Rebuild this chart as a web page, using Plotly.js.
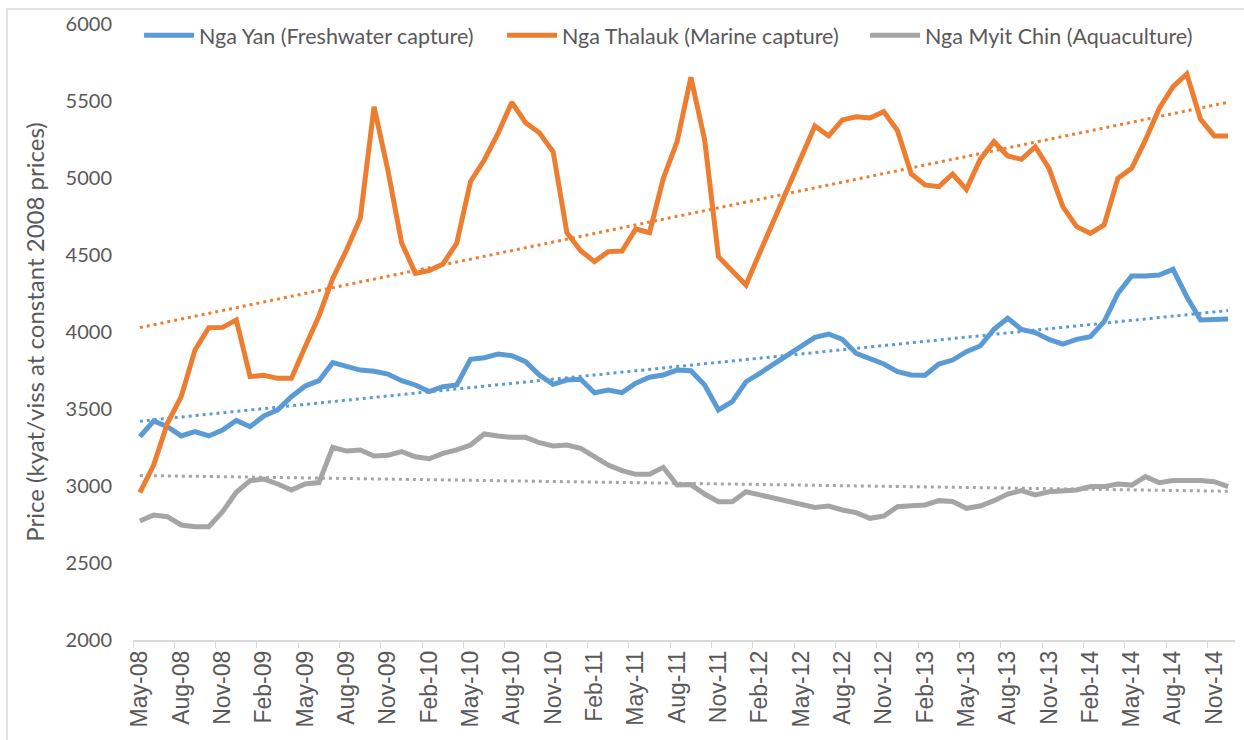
<!DOCTYPE html>
<html>
<head>
<meta charset="utf-8">
<script src="https://cdn.plot.ly/plotly-3.0.1.min.js"></script>
<style>
  html, body { margin: 0; padding: 0; background: #fff; }
  #chart { width: 1244px; height: 740px; }
</style>
</head>
<body>
<div id="chart"></div>
<script>
// monthly categories May-08 .. Dec-14
const monthNames = ["Jan", "Feb", "Mar", "Apr", "May", "Jun", "Jul", "Aug", "Sep", "Oct", "Nov", "Dec"];
const months = [];
for (let y = 2008; y <= 2014; y++) {
    for (let m = (y === 2008 ? 4 : 0); m < 12; m++) {
        months.push(monthNames[m] + "-" + String(y).slice(2));
    }
}

// kyat/viss at constant 2008 prices
const ngaYan = [
    3320, 3422, 3385, 3325, 3353, 3325, 3364, 3426, 3385, 3455, 3494, 3580, 3649, 3684, 3801, 3775, 3753, 3745, 3727, 3684,
    3656, 3613, 3645, 3656, 3823, 3833, 3857, 3846, 3807, 3721, 3660, 3688, 3693, 3606, 3623, 3606, 3667, 3706, 3721, 3753,
    3749, 3656, 3494, 3548, 3677, 3732, 3792, 3851, 3909, 3965, 3987, 3952, 3861, 3829, 3792, 3742, 3721, 3719, 3792, 3818,
    3872, 3909, 4017, 4089, 4017, 3996, 3952, 3922, 3952, 3970, 4067, 4251, 4364, 4364, 4370, 4407, 4229, 4078, 4078, 4084
];
const ngaThalauk = [
    2957, 3136, 3407, 3580, 3883, 4028, 4030, 4078, 3710, 3719, 3699, 3699, 3905, 4104, 4348, 4532, 4738, 5463, 5052, 4580,
    4381, 4398, 4442, 4576, 4976, 5117, 5290, 5491, 5359, 5294, 5171, 4645, 4528, 4457, 4522, 4526, 4669, 4645, 4998, 5236,
    5654, 5247, 4489, 4398, 4305, 4515, 4719, 4922, 5128, 5338, 5273, 5377, 5398, 5390, 5431, 5307, 5026, 4955, 4944, 5026,
    4926, 5121, 5236, 5143, 5121, 5203, 5063, 4814, 4684, 4641, 4695, 4998, 5063, 5247, 5452, 5593, 5675, 5381, 5273, 5273
];
const ngaMyitChin = [
    2773, 2812, 2801, 2747, 2736, 2736, 2833, 2959, 3035, 3045, 3013, 2974, 3013, 3022, 3251, 3227, 3234, 3195, 3199, 3223,
    3190, 3177, 3212, 3234, 3266, 3338, 3325, 3316, 3316, 3281, 3260, 3266, 3245, 3190, 3136, 3100, 3076, 3076, 3121, 3006,
    3009, 2948, 2898, 2898, 2963, 2942, 2920, 2898, 2881, 2861, 2870, 2844, 2827, 2790, 2805, 2866, 2872, 2877, 2905, 2900,
    2855, 2870, 2905, 2948, 2970, 2942, 2963, 2970, 2974, 2996, 2996, 3013, 3006, 3061, 3022, 3035, 3039, 3035, 3028, 2996
];

const seriesNames = ["Nga Yan (Freshwater capture)", "Nga Thalauk (Marine capture)", "Nga Myit Chin (Aquaculture)"];
const colors = ["#5B9BD5", "#ED7D31", "#A5A5A5"];

// linear trendline, like Excel's
function trend(vals) {
    const n = vals.length;
    let sx = 0, sy = 0, sxx = 0, sxy = 0;
    vals.forEach((v, i) => { sx += i; sy += v; sxx += i * i; sxy += i * v; });
    const b = (n * sxy - sx * sy) / (n * sxx - sx * sx);
    const a = (sy - b * sx) / n;
    return vals.map((v, i) => a + b * i);
}

const allSeries = [ngaYan, ngaThalauk, ngaMyitChin];
const traces = [];
allSeries.forEach((vals, k) => {
    traces.push({
        x: months, y: trend(vals), type: "scatter", mode: "lines",
        line: { color: colors[k], width: 3, dash: "3px,4px" },
        showlegend: false, hoverinfo: "skip"
    });
});
allSeries.forEach((vals, k) => {
    traces.push({
        x: months, y: vals, type: "scatter", mode: "lines", name: seriesNames[k],
        line: { color: colors[k], width: 5 }
    });
});

const layout = {
    width: 1244,
    height: 740,
    margin: { l: 133, r: 9, t: 24, b: 100 },
    paper_bgcolor: "#fff",
    plot_bgcolor: "#fff",
    font: { family: "Lato, sans-serif", color: "#595959" },
    xaxis: {
        type: "category",
        range: [-0.5, months.length - 0.5],
        dtick: 3,
        tickson: "boundaries",
        ticks: "outside",
        ticklen: 6,
        tickcolor: "#d9d9d9",
        tickangle: -90,
        tickfont: { family: "Liberation Sans, Arial, sans-serif", size: 23, color: "#595959" },
        showline: true,
        linecolor: "#d9d9d9",
        linewidth: 1.5,
        showgrid: false,
        zeroline: false
    },
    yaxis: {
        range: [2000, 6000],
        dtick: 500,
        showgrid: false,
        zeroline: false,
        showline: false,
        ticks: "",
        ticklabelstandoff: 20,
        tickfont: { family: "Lato, sans-serif", size: 20, color: "#595959" },
        title: { text: "Price (kyat/viss at constant 2008 prices)", font: { size: 24, color: "#595959" }, standoff: 14 }
    },
    legend: {
        orientation: "h",
        x: 0.0055,
        xanchor: "left",
        y: 1.015,
        yanchor: "top",
        entrywidth: 298,
        entrywidthmode: "pixels",
        itemwidth: 50,
        bgcolor: "rgba(0,0,0,0)",
        font: { family: "Lato, sans-serif", size: 21.5, color: "#595959" }
    },
    shapes: [{
        type: "rect", xref: "paper", yref: "paper",
        x0: -0.1143, x1: 1.02, y0: -0.2, y1: 1.0244,
        line: { color: "#d9d9d9", width: 1.5 }
    }],
    showlegend: true
};

Plotly.newPlot("chart", traces, layout, { displayModeBar: false, staticPlot: true });
</script>
</body>
</html>
